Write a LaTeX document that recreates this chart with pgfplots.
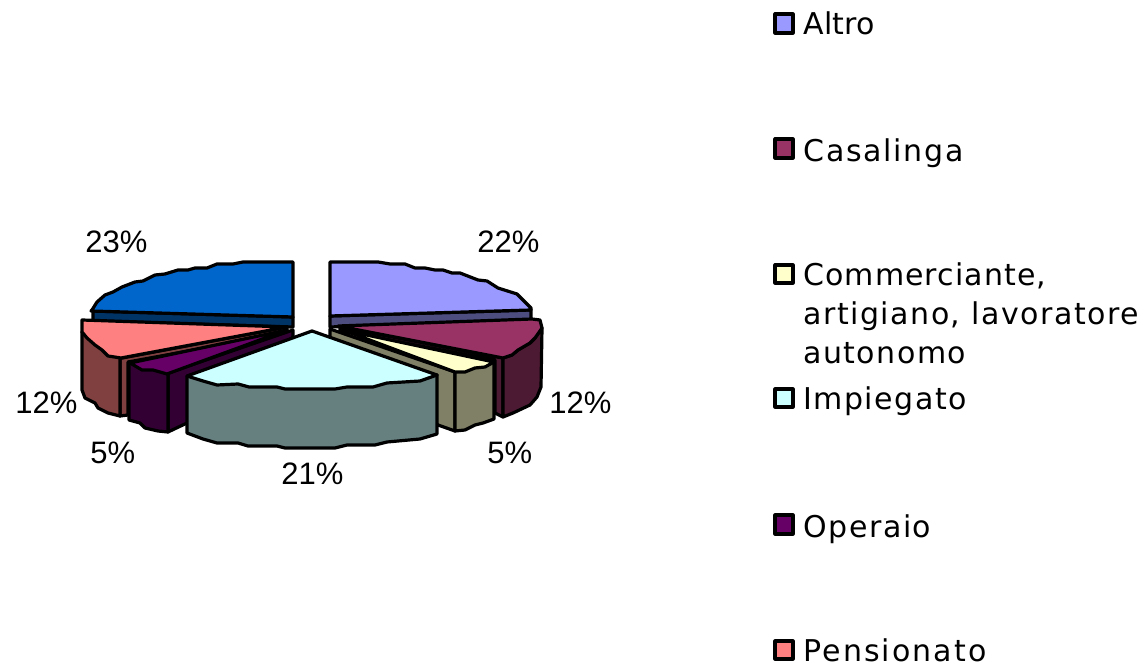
\documentclass[border=0pt]{standalone}
\usepackage{pgfplots}
\pgfplotsset{compat=1.18}
\usepackage{fontspec}
\setmainfont{Liberation Sans}
\newfontfamily\legfont{DejaVu Sans}

\definecolor{altroT}{HTML}{9999FF}
\definecolor{altroS}{HTML}{4D4D80}
\definecolor{casaT}{HTML}{993366}
\definecolor{casaS}{HTML}{4D1A33}
\definecolor{commT}{HTML}{FFFFCC}
\definecolor{commS}{HTML}{808066}
\definecolor{impT}{HTML}{CCFFFF}
\definecolor{impS}{HTML}{668080}
\definecolor{opT}{HTML}{660066}
\definecolor{opS}{HTML}{330033}
\definecolor{penT}{HTML}{FF8080}
\definecolor{penS}{HTML}{804040}
\definecolor{bluT}{HTML}{0066CC}
\definecolor{bluS}{HTML}{003366}

\tikzset{
  lab/.style={font=\fontsize{15.5}{18}\selectfont, anchor=base west, inner sep=0pt},
  leg/.style={font=\legfont\fontsize{15}{18}\selectfont\addfontfeature{LetterSpace=#1}, anchor=base west, inner sep=0pt}}

\begin{document}
\begin{tikzpicture}
\begin{axis}[scale only axis, width=572pt, height=333.5pt,
  xmin=0, xmax=1144, ymin=0, ymax=667, y dir=reverse,
  hide axis, clip=false,
  every axis plot/.append style={draw=black, line width=1.6pt, line join=round}]

% 23% slice
\addplot[fill=bluS] coordinates {(93,311) (293,317) (293,327) (93,321)} -- cycle;
\addplot[fill=bluT] coordinates {(293,262) (243,262) (233,264) (217,264) (207,268) (195,268) (188,270) (178,270) (165,274) (155,275) (143,281) (135,282) (122,287) (113,292) (105,295) (97,302) (92,310) (91,311) (293,317)} -- cycle;

% Altro
\addplot[fill=altroS] coordinates {(330,316) (531,310) (531,320) (330,327)} -- cycle;
\addplot[fill=altroT] coordinates {(330,262) (378,262) (390,264) (405,264) (415,268) (425,268) (435,270) (443,270) (452,273) (460,273) (478,280) (487,281) (498,288) (517,294) (531,308) (531,310) (330,316)} -- cycle;

% Pensionato
\addplot[fill=penS] coordinates {(122,358) (287,327) (287,333) (128,362) (128,415) (120,416) (120,358)} -- cycle;
\addplot[fill=penS] coordinates {(82,332) (82,390) (85,398) (95,403) (98,408) (108,413) (120,416) (120,358)} -- cycle;
\addplot[fill=penT] coordinates {(82,320) (287,327) (121,358) (108,356) (102,350) (95,345) (87,338) (82,332)} -- cycle;

% Operaio
\addplot[fill=opS] coordinates {(293,330) (293,337) (187,423) (168,432) (168,373)} -- cycle;
\addplot[fill=opS] coordinates {(129,362) (129,420) (140,423) (145,428) (158,431) (168,432) (168,373)} -- cycle;
\addplot[fill=opT] coordinates {(130,363) (287,330) (167,374) (153,370) (142,370)} -- cycle;

% Casalinga
\addplot[fill=casaS] coordinates {(340,327) (503,358) (503,417) (495,413) (495,360) (340,331)} -- cycle;
\addplot[fill=casaS] coordinates {(503,358) (503,417) (513,413) (530,405) (537,397) (541,387) (542,328) (535,338) (530,343) (518,350) (512,355)} -- cycle;
\addplot[fill=casaT] coordinates {(338,326) (532,319) (540,320) (542,328) (535,338) (530,343) (518,350) (512,355) (503,358)} -- cycle;

% Commerciante
\addplot[fill=commS] coordinates {(330,329) (455,372) (455,431) (438,425) (330,337)} -- cycle;
\addplot[fill=commS] coordinates {(455,372) (455,431) (465,430) (475,425) (483,423) (494,419) (494,362)} -- cycle;
\addplot[fill=commT] coordinates {(343,330) (494,362) (485,367) (475,368) (465,372) (455,372)} -- cycle;

% Impiegato
\addplot[fill=impS] coordinates {(187,376) (187,433) (203,439) (217,443) (238,443) (248,446) (277,446) (285,448) (335,448) (347,445) (375,445) (387,442) (420,439) (437,434) (437,375)} -- cycle;
\addplot[fill=impT] coordinates {(312,331) (437,375) (420,381) (387,383) (373,387) (347,387) (335,389) (285,389) (277,387) (249,387) (238,384) (217,385) (203,381) (187,376)} -- cycle;

% legend boxes
\addplot[fill=altroT] coordinates {(775,14) (793,14) (793,33) (775,33)} -- cycle;
\addplot[fill=casaT] coordinates {(775,139) (793,139) (793,158) (775,158)} -- cycle;
\addplot[fill=commT] coordinates {(775,265) (793,265) (793,283) (775,283)} -- cycle;
\addplot[fill=impT] coordinates {(775,389) (793,389) (793,407) (775,407)} -- cycle;
\addplot[fill=opT] coordinates {(775,515) (793,515) (793,534) (775,534)} -- cycle;
\addplot[fill=penT] coordinates {(775,641) (793,641) (793,659) (775,659)} -- cycle;

\node[leg=1] at (axis cs:803,35) {Altro};
\node[leg=5.8] at (axis cs:803,162) {Casalinga};
\node[leg=3.6] at (axis cs:803,286) {Commerciante,};
\node[leg=5] at (axis cs:803,325) {artigiano, lavoratore};
\node[leg=4.9] at (axis cs:803,364) {autonomo};
\node[leg=4.9] at (axis cs:803,410) {Impiegato};
\node[leg=5.2] at (axis cs:803,537) {Operaio};
\node[leg=6.9] at (axis cs:803,661) {Pensionato};

\node[lab] at (axis cs:85,253) {23\%};
\node[lab] at (axis cs:477,253) {22\%};
\node[lab] at (axis cs:549,414) {12\%};
\node[lab] at (axis cs:15,414) {12\%};
\node[lab] at (axis cs:90,464) {5\%};
\node[lab] at (axis cs:487,464) {5\%};
\node[lab] at (axis cs:281,484) {21\%};
\end{axis}
\useasboundingbox (current axis.south west) rectangle (current axis.north east);
\end{tikzpicture}
\end{document}
